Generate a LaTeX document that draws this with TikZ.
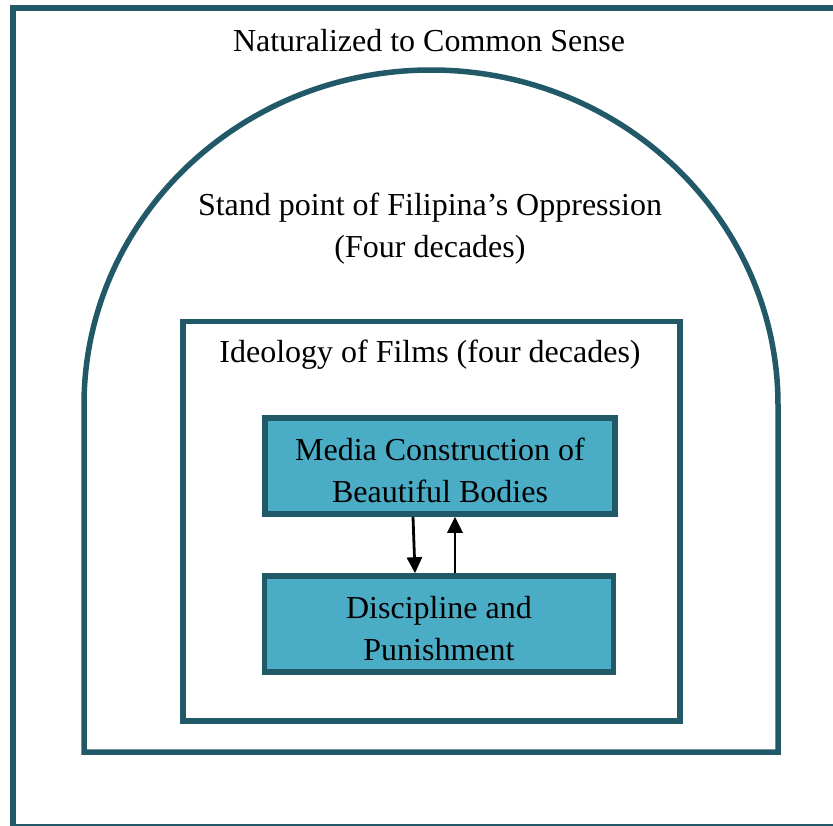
\documentclass[tikz,border=0pt]{standalone}
\usepackage{fontspec}
\setmainfont{Liberation Serif}
\usetikzlibrary{arrows.meta}
\definecolor{teal}{RGB}{34,89,104}
\definecolor{aqua}{RGB}{75,172,198}
\tikzset{
  frame/.style={draw=teal, line width=5.5pt},
  lbl/.style={font=\fontsize{32}{42}\selectfont, align=center, inner sep=0pt},
  box/.style={frame, fill=aqua, minimum width=350pt, minimum height=96pt, inner sep=0pt},
  arr/.style={line width=2.8pt, -{Triangle[length=16pt,width=15pt]}}
}
\begin{document}
\begin{tikzpicture}[x=1pt,y=-1pt]
\useasboundingbox (0,0) rectangle (833,825);
% outer frame (clipped at right and bottom)
\draw[frame] (13,8) rectangle (845,827);
% arch
\draw[frame] (84,752) -- (84,405) arc[start angle=180, end angle=0, x radius=347pt, y radius=335pt] -- (778,752) -- cycle;
% ideology rectangle
\draw[frame] (183,321.5) rectangle (680,721);
% texts
\node[lbl] (t1) at (429,41) {Naturalized to Common Sense};
\node[lbl] (t2) at (430,229) {Stand point of Filipina’s Oppression\\(Four decades)};
\node[lbl] (t3) at (430,355) {Ideology of Films (four decades)};
% boxes
\node[box, label={[lbl, yshift=-4pt]center:Media Construction of\\Beautiful Bodies}] (media) at (440,466) {};
\node[box, minimum width=349pt, label={[lbl, yshift=-5pt]center:Discipline and\\Punishment}] (disc) at (439,624) {};
% arrows
\draw[arr] ([xshift=-27pt]media.south) -- ([xshift=-24pt]disc.north);
\draw[arr] ([xshift=16pt]disc.north) -- ([xshift=15pt]media.south);
\end{tikzpicture}
\end{document}
